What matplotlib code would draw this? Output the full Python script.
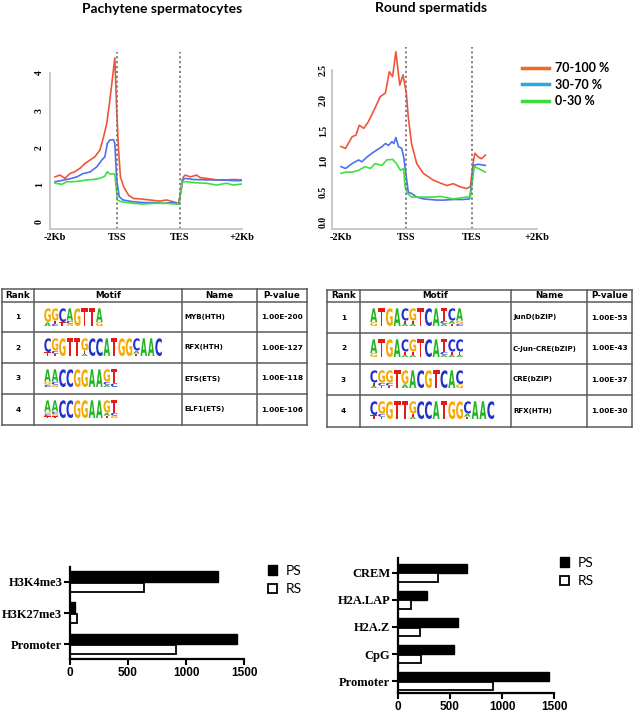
import numpy as np
import matplotlib
matplotlib.use('Agg')
from matplotlib import pyplot as plt
from matplotlib.textpath import TextPath
from matplotlib.font_manager import FontProperties
from matplotlib.patches import PathPatch, Patch
from matplotlib.lines import Line2D
from matplotlib.transforms import Affine2D

# ---- profile data (x: 0=-2Kb, 1=TSS, 2=TES, 3=+2Kb) ----
ps_hi_x = [0, 0.08, 0.16, 0.24, 0.32, 0.40, 0.48, 0.56, 0.64, 0.72, 0.78, 0.83, 0.88, 0.93, 0.96, 0.99, 1.02, 1.05, 1.10, 1.18,
           1.26, 1.36, 1.52, 1.68, 1.79, 1.90, 1.98, 2.03, 2.06, 2.09, 2.17, 2.27, 2.33, 2.43, 2.59, 2.75, 2.86, 3.0]
ps_hi_y = [1.21, 1.26, 1.17, 1.30, 1.35, 1.44, 1.57, 1.66, 1.75, 1.93, 2.29, 2.64, 3.27, 3.98, 4.41, 3.00, 1.93, 1.21, 0.95, 0.72,
           0.63, 0.62, 0.59, 0.56, 0.59, 0.54, 0.50, 0.90, 1.21, 1.26, 1.21, 1.26, 1.19, 1.17, 1.13, 1.13, 1.14, 1.13]
ps_mid_x = [0, 0.13, 0.24, 0.35, 0.45, 0.56, 0.67, 0.75, 0.80, 0.84, 0.88, 0.94, 0.96, 0.99, 1.03, 1.09, 1.26, 1.42, 1.58, 1.74,
            1.90, 1.99, 2.04, 2.09, 2.22, 2.43, 2.65, 2.86, 3.0]
ps_mid_y = [1.08, 1.12, 1.16, 1.21, 1.30, 1.34, 1.48, 1.66, 1.75, 2.11, 2.20, 2.21, 2.11, 1.13, 0.68, 0.59, 0.54, 0.52, 0.52, 0.50,
            0.52, 0.48, 1.13, 1.17, 1.14, 1.13, 1.13, 1.11, 1.11]
ps_lo_x = [0, 0.11, 0.19, 0.29, 0.40, 0.51, 0.61, 0.72, 0.80, 0.84, 0.88, 0.96, 1.00, 1.07, 1.26, 1.42, 1.58, 1.79, 1.95, 1.99,
           2.04, 2.11, 2.27, 2.43, 2.59, 2.75, 2.86, 3.0]
ps_lo_y = [1.04, 1.01, 1.08, 1.08, 1.10, 1.13, 1.14, 1.17, 1.23, 1.35, 1.29, 1.29, 0.59, 0.54, 0.50, 0.48, 0.50, 0.50, 0.48, 0.48,
           1.08, 1.08, 1.05, 1.04, 0.99, 1.04, 0.99, 1.02]

rs_hi_x = [0, 0.07, 0.17, 0.23, 0.28, 0.35, 0.42, 0.52, 0.60, 0.68, 0.74, 0.79, 0.84, 0.90, 0.95, 1.00, 1.03, 1.08, 1.16, 1.26,
           1.41, 1.52, 1.62, 1.72, 1.82, 1.92, 1.98, 2.03, 2.05, 2.10, 2.15, 2.21]
rs_hi_y = [1.24, 1.21, 1.40, 1.43, 1.59, 1.54, 1.65, 1.87, 2.06, 2.12, 2.47, 2.39, 2.80, 2.25, 2.42, 2.12, 1.73, 1.29, 0.96, 0.80,
           0.69, 0.64, 0.60, 0.63, 0.58, 0.55, 0.58, 1.02, 1.13, 1.07, 1.04, 1.10]
rs_mid_x = [0, 0.07, 0.17, 0.27, 0.32, 0.40, 0.50, 0.63, 0.68, 0.73, 0.78, 0.81, 0.84, 0.88, 0.93, 0.96, 1.00, 1.03, 1.08, 1.16,
            1.26, 1.36, 1.47, 1.57, 1.72, 1.87, 1.97, 2.03, 2.10, 2.21]
rs_mid_y = [0.91, 0.88, 0.96, 1.02, 0.99, 1.07, 1.15, 1.24, 1.29, 1.26, 1.32, 1.29, 1.39, 1.24, 1.21, 1.07, 0.74, 0.49, 0.47, 0.41,
            0.38, 0.37, 0.36, 0.36, 0.37, 0.37, 0.38, 0.93, 0.95, 0.93]
rs_lo_x = [0, 0.07, 0.17, 0.27, 0.37, 0.45, 0.52, 0.63, 0.70, 0.79, 0.85, 0.91, 0.96, 0.98, 1.02, 1.08, 1.21, 1.41, 1.52, 1.72,
           1.92, 1.98, 2.04, 2.10, 2.21]
rs_lo_y = [0.80, 0.82, 0.82, 0.85, 0.91, 0.88, 0.96, 0.93, 1.02, 1.03, 0.96, 0.85, 0.88, 0.58, 0.47, 0.41, 0.41, 0.41, 0.42, 0.38,
           0.41, 0.41, 0.91, 0.88, 0.82]

region_ticks = ['-2Kb', 'TSS', 'TES', '+2Kb']
group_labels = ['70-100 %', '30-70 %', '0-30 %']

# ---- motif tables (each logo column: letters top to bottom) ----
ps_rank = ['1', '2', '3', '4']
ps_motifs = [['GA', 'GTC', 'CT', 'ACG', 'G', 'T', 'T', 'AG'],
             ['CT', 'GCT', 'G', 'T', 'T', 'GTA', 'C', 'C', 'A', 'T', 'G', 'G', 'CAT', 'A', 'A', 'C'],
             ['AGC', 'ACG', 'C', 'C', 'G', 'G', 'A', 'A', 'GCA', 'TC'],
             ['AGCT', 'ACGT', 'C', 'C', 'G', 'G', 'A', 'A', 'GAT', 'TCG']]
ps_names = ['MYB(HTH)', 'RFX(HTH)', 'ETS(ETS)', 'ELF1(ETS)']
ps_pval = ['1.00E-200', '1.00E-127', '1.00E-118', '1.00E-106']

rs_rank = ['1', '2', '3', '4']
rs_motifs = [['AG', 'T', 'G', 'A', 'CTA', 'GTA', 'T', 'C', 'A', 'TCA', 'CAT', 'AGC'],
             ['AG', 'T', 'G', 'A', 'CTA', 'GTA', 'T', 'C', 'A', 'TCA', 'CTA', 'CTA'],
             ['CTA', 'GCT', 'GCT', 'T', 'GA', 'A', 'C', 'G', 'T', 'C', 'A', 'CG'],
             ['CT', 'GCT', 'G', 'T', 'T', 'GTA', 'C', 'C', 'A', 'T', 'G', 'G', 'CAT', 'A', 'A', 'C']]
rs_names = ['JunD(bZIP)', 'C-Jun-CRE(bZIP)', 'CRE(bZIP)', 'RFX(HTH)']
rs_pval = ['1.00E-53', '1.00E-43', '1.00E-37', '1.00E-30']
table_header = ['Rank', 'Motif', 'Name', 'P-value']

# ---- peak overlap counts ----
left_cats = ['H3K4me3', 'H3K27me3', 'Promoter']
left_ps = [1280, 43, 1443]
left_rs = [637, 63, 918]
right_cats = ['CREM', 'H2A.LAP', 'H2A.Z', 'CpG', 'Promoter']
right_ps = [661, 278, 581, 543, 1449]
right_rs = [383, 124, 207, 220, 916]

W, H = 640, 714
fig = plt.figure(figsize=(6.4, 7.14), dpi=100)

serif = ['Liberation Serif', 'DejaVu Serif']
sans = ['Liberation Sans', 'DejaVu Sans']
calib = ['Lato', 'DejaVu Sans']
verd = ['DejaVu Sans']

line_cols = ['#f0553a', '#4f6ef0', '#3ee03e']
legend_cols = ['#f26522', '#27aae1', '#3ddc3d']


def px_axes(x0, y0, x1, y1):
    return fig.add_axes([x0 / W, 1 - y1 / H, (x1 - x0) / W, (y1 - y0) / H])


# overlay in pixel units for the tables
ov = fig.add_axes([0, 0, 1, 1])
ov.set_xlim(0, W)
ov.set_ylim(H, 0)
ov.axis('off')


def profile(rect, xlim, ylim, ytop, ybound, series, yticks, ylabels, pad):
    ax = px_axes(*rect)
    for (xs, ys), c in zip(series, line_cols):
        ax.plot(xs, ys, color=c, lw=1.2)
    ax.vlines([1, 2], ylim[0], ytop, colors='#777777', linestyles=(0, (1.2, 1.5)), lw=1.3)
    ax.set_xlim(xlim)
    ax.set_ylim(ylim)
    for s in ['top', 'right']:
        ax.spines[s].set_visible(False)
    for s in ['left', 'bottom']:
        ax.spines[s].set_color('#c4c4c4')
        ax.spines[s].set_linewidth(1.3)
    ax.spines['left'].set_bounds(ylim[0], ybound)
    ax.set_xticks([0, 1, 2, 3])
    ax.set_xticklabels(region_ticks, family=serif, fontweight='bold', fontsize=7.5)
    ax.set_yticks(yticks)
    ax.set_yticklabels(ylabels, family=serif, fontweight='bold', fontsize=7, rotation=90, va='center')
    ax.tick_params(axis='x', length=0, pad=3)
    ax.tick_params(axis='y', length=0, pad=pad)
    ax.patch.set_alpha(0)
    return ax


profile((50, 50, 242, 229), (-0.08, 3.0), (-0.19, 4.62), 4.56, 4.0,
        [(ps_hi_x, ps_hi_y), (ps_mid_x, ps_mid_y), (ps_lo_x, ps_lo_y)],
        [0, 1, 2, 3, 4], ['0', '1', '2', '3', '4'], 4.5)
profile((332, 45, 537, 229), (-0.137, 3.0), (-0.115, 2.91), 2.88, 2.5,
        [(rs_hi_x, rs_hi_y), (rs_mid_x, rs_mid_y), (rs_lo_x, rs_lo_y)],
        [0, 0.5, 1.0, 1.5, 2.0, 2.5], ['0.0', '0.5', '1.0', '1.5', '2.0', '2.5'], 3)

fig.text(162 / W, 1 - 9 / H, 'Pachytene spermatocytes', ha='center', va='center',
         fontsize=10, fontweight='bold', family=calib)
fig.text(431 / W, 1 - 8 / H, 'Round spermatids', ha='center', va='center',
         fontsize=10, fontweight='bold', family=calib)

handles = [Line2D([], [], color=c, lw=2.5) for c in legend_cols]
fig.legend(handles, group_labels, loc='upper left', bbox_to_anchor=(516 / W, 1 - 56 / H),
           frameon=False, handlelength=2.1, handletextpad=0.5, labelspacing=0.35, borderpad=0,
           prop=FontProperties(family=calib, weight='bold', size=9))

# ---- motif tables ----
logo_cols = {'A': '#22b422', 'C': '#2233cc', 'G': '#f5a800', 'T': '#e21a1a'}
logo_prop = FontProperties(family='DejaVu Sans', weight='bold')
stack_h = {1: [1.0], 2: [0.78, 0.22], 3: [0.7, 0.17, 0.13], 4: [0.64, 0.13, 0.12, 0.11]}


def letter(ch, x, ybot, w, h):
    tp = TextPath((0, 0), ch, size=10, prop=logo_prop)
    e = tp.get_extents()
    tr = Affine2D().translate(-e.x0, -e.y0).scale(w / e.width, -h / e.height).translate(x, ybot)
    ov.add_patch(PathPatch(tr.transform_path(tp), fc=logo_cols[ch], ec='none', lw=0))


def logo(cols, x0, ybase, colw, height):
    for i, col in enumerate(cols):
        hs = stack_h[len(col)]
        cur = ybase
        for ch, fr in zip(col[::-1], hs[::-1]):
            letter(ch, x0 + i * colw + 0.3, cur, colw * 0.88, fr * height - 0.3)
            cur -= fr * height


def table(xs, ys, ranks, motifs, names, pvals, colw):
    for x in xs:
        ov.plot([x, x], [ys[0], ys[-1]], color='#5a5a5a', lw=1.1)
    for y in ys:
        ov.plot([xs[0], xs[-1]], [y, y], color='#5a5a5a', lw=1.1)
    hy = (ys[0] + ys[1]) / 2
    for j, t in enumerate(table_header):
        ov.text((xs[j] + xs[j + 1]) / 2, hy, t, ha='center', va='center',
                fontsize=6.3, fontweight='bold', family=verd)
    for i in range(len(ranks)):
        cy = (ys[i + 1] + ys[i + 2]) / 2
        ov.text((xs[0] + xs[1]) / 2, cy, ranks[i], ha='center', va='center',
                fontsize=5.3, fontweight='bold', family=verd)
        logo(motifs[i], xs[1] + 10, ys[i + 1] + 24, colw, 18)
        ov.text(xs[2] + 2, cy, names[i], ha='left', va='center',
                fontsize=5.1, fontweight='bold', family=verd)
        ov.text((xs[3] + xs[4]) / 2, cy, pvals[i], ha='center', va='center',
                fontsize=5.3, fontweight='bold', family=verd)


table([2, 34, 182, 257, 307], [289, 302, 332, 363, 394, 425],
      ps_rank, ps_motifs, ps_names, ps_pval, 7.4)
table([327, 360, 511, 587, 632], [290, 302, 333, 364, 395, 427],
      rs_rank, rs_motifs, rs_names, rs_pval, 7.8)

# ---- bar charts ----


def bars(rect, ylim, cats, ps, rs, leg_xy):
    ax = px_axes(*rect)
    y = np.arange(len(cats))[::-1]
    ax.barh(y, ps, height=0.34, align='edge', color='black', edgecolor='black', lw=1)
    ax.barh(y - 0.33, rs, height=0.31, align='edge', color='white', edgecolor='black', lw=1.3)
    ax.set_xlim(0, 1500)
    ax.set_ylim(ylim)
    ax.set_xticks([0, 500, 1000, 1500])
    ax.set_xticklabels(['0', '500', '1000', '1500'], family=sans, fontweight='bold', fontsize=8.5)
    ax.set_yticks(y)
    ax.set_yticklabels(cats, family=serif, fontweight='bold', fontsize=9)
    for s in ['top', 'right']:
        ax.spines[s].set_visible(False)
    for s in ['left', 'bottom']:
        ax.spines[s].set_linewidth(1.6)
    ax.tick_params(length=4, width=1.5)
    ax.tick_params(axis='x', pad=2)
    ax.tick_params(axis='y', pad=1.5)
    ax.patch.set_alpha(0)
    hh = [Patch(fc='black', ec='black', lw=1), Patch(fc='white', ec='black', lw=1.3)]
    fig.legend(hh, ['PS', 'RS'], loc='upper left', bbox_to_anchor=(leg_xy[0] / W, 1 - leg_xy[1] / H),
               frameon=False, handlelength=0.65, handleheight=0.65, handletextpad=0.6,
               labelspacing=0.45, borderpad=0, prop=FontProperties(family=calib, size=10))


bars((70, 567, 244, 659), (-0.48, 2.48), left_cats, left_ps, left_rs, (261, 558))
bars((398, 558, 554, 693), (-0.44, 4.55), right_cats, right_ps, right_rs, (553, 550))

plt.savefig('out.png', dpi=100)
